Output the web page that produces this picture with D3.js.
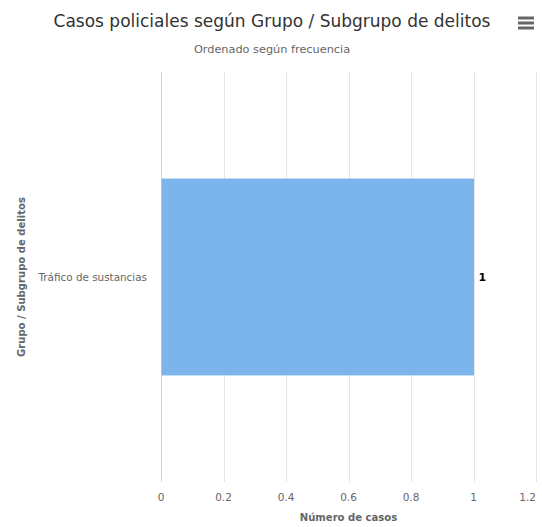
<!DOCTYPE html>
<html><head><meta charset="utf-8">
<script src="https://cdn.jsdelivr.net/npm/d3@7"></script>
<style>body{margin:0;background:#fff}svg{display:block}</style>
</head><body>
<script>
const categories = ["Tráfico de sustancias"];
const values = [1];
const xTicks = [0, 0.2, 0.4, 0.6, 0.8, 1, 1.2];
const titleText = "Casos policiales según Grupo / Subgrupo de delitos";
const subtitleText = "Ordenado según frecuencia";
const yTitle = "Grupo / Subgrupo de delitos";
const xTitle = "Número de casos";

const W = 542, H = 527;
const m = {left:161, right:6, top:72, bottom:45};
const font = "'DejaVu Sans',Verdana,sans-serif";
const condensed = "'DejaVu Sans Condensed','DejaVu Sans',sans-serif";
const svg = d3.select("body").append("svg").attr("width", W).attr("height", H)
  .style("font-family", font);

const x = d3.scaleLinear().domain([0, 1.2]).range([m.left, W - m.right]);
const y = d3.scaleBand().domain(categories).range([m.top, H - m.bottom]).paddingInner(0.2).paddingOuter(0.433);

// grid
svg.append("g").selectAll("line").data(xTicks).join("line")
  .attr("x1", d => Math.round(x(d)) + 0.5).attr("x2", d => Math.round(x(d)) + 0.5)
  .attr("y1", m.top).attr("y2", H - m.bottom)
  .attr("stroke", d => d === 0 ? "#ccd6eb" : "#e6e6e6").attr("stroke-width", 1);

// bars
svg.append("g").selectAll("rect").data(values).join("rect")
  .attr("x", x(0) + 0.5).attr("y", (d, i) => y(categories[i]))
  .attr("width", d => x(d) - x(0)).attr("height", y.bandwidth())
  .attr("fill", "#7cb5ec");

// data labels
svg.append("g").selectAll("text").data(values).join("text")
  .attr("x", d => x(d) + 5).attr("y", (d, i) => y(categories[i]) + y.bandwidth() / 2)
  .attr("dy", "0.35em").attr("font-size", 11).attr("font-weight", "bold").attr("fill", "#000")
  .text(d => d);

// x axis labels
svg.append("g").selectAll("text").data(xTicks).join("text")
  .attr("x", (d, i) => i === xTicks.length - 1 ? W - 6 : x(d)).attr("y", H - m.bottom + 19)
  .attr("text-anchor", (d, i) => i === xTicks.length - 1 ? "end" : "middle")
  .attr("font-size", 10.5).attr("fill", "#666")
  .text(d => d);

// y category labels
svg.append("g").selectAll("text").data(categories).join("text")
  .attr("x", m.left - 14).attr("y", d => y(d) + y.bandwidth() / 2)
  .attr("dy", "0.35em").attr("text-anchor", "end").attr("font-size", 10.4).attr("fill", "#666")
  .text(d => d);

// axis titles
svg.append("text").attr("x", x(0.6)).attr("y", H - 6)
  .attr("text-anchor", "middle").attr("font-size", 11.2).attr("font-weight", "bold").attr("fill", "#666")
  .style("font-family", condensed).text(xTitle);
svg.append("text").attr("transform", `translate(25,${(m.top + H - m.bottom) / 2}) rotate(-90)`)
  .attr("text-anchor", "middle").attr("font-size", 11.2).attr("font-weight", "bold").attr("fill", "#666")
  .style("font-family", condensed).text(yTitle);

// title/subtitle
svg.append("text").attr("x", 272).attr("y", 27).attr("text-anchor", "middle")
  .attr("font-size", 17).attr("fill", "#333").text(titleText);
svg.append("text").attr("x", 272).attr("y", 53).attr("text-anchor", "middle")
  .attr("font-size", 11.3).attr("fill", "#666").text(subtitleText);

// menu icon
svg.append("g").selectAll("line").data([0, 5, 10]).join("line")
  .attr("x1", 518).attr("x2", 534).attr("y1", d => 18 + d).attr("y2", d => 18 + d)
  .attr("stroke", "#666").attr("stroke-width", 3);
</script>
</body></html>
